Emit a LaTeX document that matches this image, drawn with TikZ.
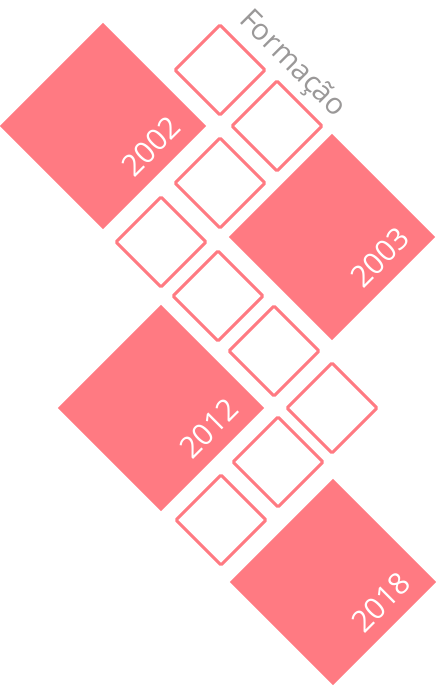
\documentclass[tikz,border=0pt]{standalone}
\usepackage{fontspec}
\setmainfont{Open Sans}
\definecolor{rosa}{HTML}{FF7A82}
\definecolor{cinza}{HTML}{9A9898}

\begin{document}
\begin{tikzpicture}
[
    x=1pt, y=-1pt,
    ano/.style={rectangle, rotate=45, fill=rosa, minimum size=145.7pt, inner sep=0pt, outer sep=0pt},
    casa/.style={rectangle, rotate=45, draw=rosa, fill=white, line width=3pt, minimum size=63.5pt, inner sep=0pt, outer sep=0pt, rounded corners=1pt},
    anotexto/.style={rotate=45, anchor=base east, text=white, inner sep=0pt, font=\fontsize{30}{30}\selectfont},
    titulo/.style={rotate=-45, anchor=base west, text=cinza, inner sep=0pt, font=\fontsize{29.5}{29.5}\selectfont},
]
\useasboundingbox (0,0) rectangle (436,686);
\node [ano] (a2002) at (103,126) {};
\node [ano] (a2003) at (332,237) {};
\node [ano] (a2012) at (161,408) {};
\node [ano] (a2018) at (333,582) {};
\node [casa] (c1) at (220,70) {};
\node [casa] (c2) at (277,126) {};
\node [casa] (c3) at (220,183) {};
\node [casa] (c4) at (161,242) {};
\node [casa] (c5) at (218,296) {};
\node [casa] (c6) at (274,351) {};
\node [casa] (c7) at (332,408) {};
\node [casa] (c8) at (278,462) {};
\node [casa] (c9) at (221,520) {};
\node [anotexto] (t2002) at ([shift={(-23,3.5)}]a2002.south east) {2002};
\node [anotexto] (t2003) at ([shift={(-23,3.5)}]a2003.south east) {2003};
\node [anotexto] (t2012) at ([shift={(-23,3.5)}]a2012.south east) {2012};
\node [anotexto] (t2018) at ([shift={(-23,3.5)}]a2018.south east) {2018};
\node [titulo] (formacao) at (238,21) {Formação};
\end{tikzpicture}
\end{document}
